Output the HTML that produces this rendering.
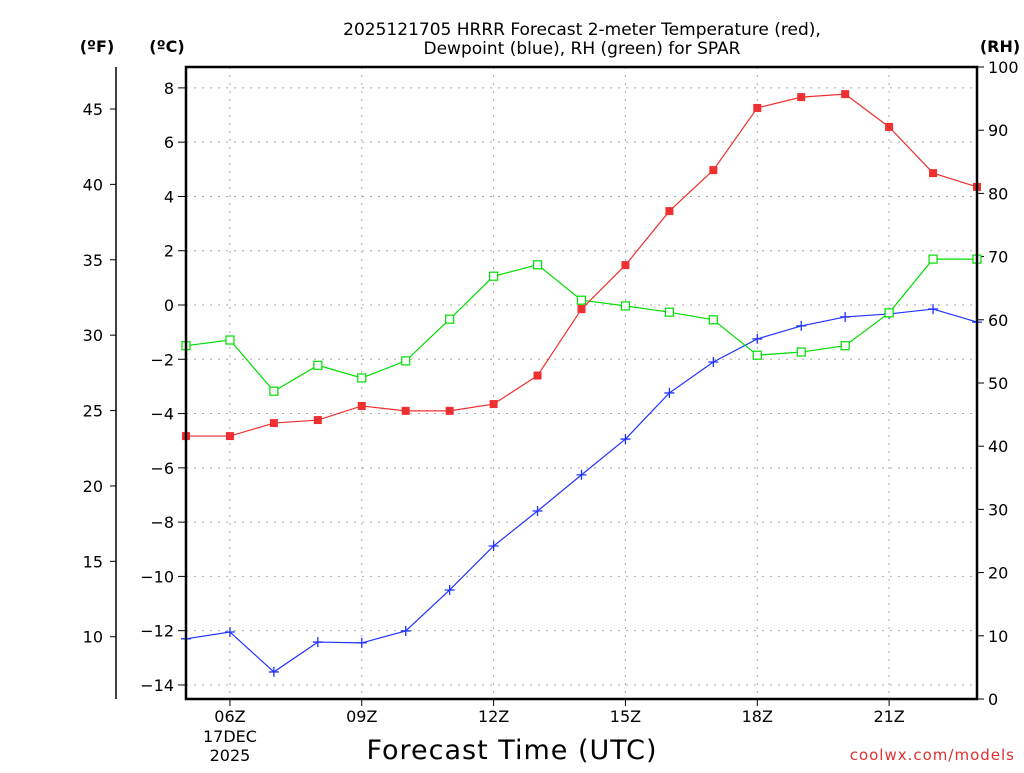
<!DOCTYPE html>
<html><head><meta charset="utf-8"><style>
body{margin:0;background:#fff;width:1024px;height:768px;overflow:hidden}
svg text{font-family:"DejaVu Sans","Liberation Sans",sans-serif;fill:#000}
</style></head><body>
<svg id="chart" width="1024" height="768" xmlns="http://www.w3.org/2000/svg">
<text x="582" y="35" font-size="17" text-anchor="middle">2025121705 HRRR Forecast 2-meter Temperature (red),</text>
<text x="582" y="54" font-size="17" text-anchor="middle">Dewpoint (blue), RH (green) for SPAR</text>
<text x="97" y="52" font-size="16" font-weight="bold" text-anchor="middle">(ºF)</text>
<text x="167" y="52" font-size="16" font-weight="bold" text-anchor="middle">(ºC)</text>
<text x="1000" y="52" font-size="16" font-weight="bold" text-anchor="middle">(RH)</text>
<text x="512" y="759" font-size="27" text-anchor="middle" letter-spacing="1">Forecast Time (UTC)</text>
<text x="1015" y="760" font-size="15" text-anchor="end" style="fill:#e03030" letter-spacing="1">coolwx.com/models</text>
<g id="g"></g>
</svg>
<script>
const hours=[5,6,7,8,9,10,11,12,13,14,15,16,17,18,19,20,21,22,23];
const tempC=[-4.83,-4.83,-4.35,-4.24,-3.72,-3.9,-3.9,-3.65,-2.6,-0.15,1.47,3.46,4.97,7.26,7.66,7.77,6.56,4.86,4.35];
const dewC=[-12.3,-12.05,-13.52,-12.42,-12.45,-12.01,-10.5,-8.88,-7.59,-6.26,-4.94,-3.24,-2.1,-1.25,-0.77,-0.44,-0.33,-0.15,-0.63];
const rh=[55.9,56.8,48.7,52.8,50.8,53.5,60.1,66.9,68.7,63.1,62.2,61.2,60,54.4,54.9,55.9,61.1,69.6,69.6];
const cTicks=[8,6,4,2,0,-2,-4,-6,-8,-10,-12,-14];
const fTicks=[45,40,35,30,25,20,15,10];
const rhTicks=[0,10,20,30,40,50,60,70,80,90,100];
const xTicks=[6,9,12,15,18,21];
const L=186,R=977,T=67,B=699;
const X=h=>L+(h-5)*(R-L)/18;
const YC=c=>305-c*27.14;
const YF=f=>YC((f-32)*5/9);
const YR=r=>B-r*(B-T)/100;
const g=document.getElementById('g');
const NS='http://www.w3.org/2000/svg';
function el(tag,a,txt){const e=document.createElementNS(NS,tag);for(const k in a)e.setAttribute(k,a[k]);if(txt!==undefined)e.textContent=txt;g.appendChild(e);return e;}
cTicks.forEach(c=>{const y=YC(c);
 const l=el('line',{x1:L,x2:R,y1:y,y2:y,stroke:'#aaa','stroke-dasharray':'2,6'});
 
 const t=el('line',{x1:L-8,x2:L,y1:y,y2:y,stroke:'#000'});
 
 const tx=el('text',{x:L-12,y:y+6,'font-size':16,'text-anchor':'end'},(c<0?'\u2212'+(-c):c));
 });
xTicks.forEach(h=>{const x=X(h);
 const l=el('line',{x1:x,x2:x,y1:T,y2:B,stroke:'#aaa','stroke-dasharray':'2,6'});
 
 const t=el('line',{x1:x,x2:x,y1:B,y2:B+7,stroke:'#000'});
 
 const tx=el('text',{x:x,y:B+23,'font-size':16,'text-anchor':'middle'},(h<10?'0'+h:h)+'Z');
 });
const d1=el('text',{x:X(6),y:B+43,'font-size':16,'text-anchor':'middle'},'17DEC');

const d2=el('text',{x:X(6),y:B+62,'font-size':16,'text-anchor':'middle'},'2025');

const fa=el('line',{x1:116,x2:116,y1:T,y2:B,stroke:'#000','stroke-width':1.5});

fTicks.forEach(f=>{const y=YF(f);
 const t=el('line',{x1:110,x2:116,y1:y,y2:y,stroke:'#000'});
 
 const tx=el('text',{x:103,y:y+6,'font-size':16,'text-anchor':'end'},f);
 });
rhTicks.forEach(r=>{const y=YR(r);
 const t=el('line',{x1:R,x2:R+7,y1:y,y2:y,stroke:'#000'});
 
 const tx=el('text',{x:R+11,y:y+6,'font-size':16},r);
 });
function series(vals,Y,color,name,marker){
 const pts=vals.map((v,i)=>X(hours[i])+','+Y(v)).join(' ');
 const p=el('polyline',{points:pts,fill:'none',stroke:color,'stroke-width':1.2});
 
 vals.forEach((v,i)=>{const x=X(hours[i]),y=Y(v);let m;
  if(marker==='fill')m=el('rect',{x:x-4,y:y-4,width:8,height:8,fill:color});
  else if(marker==='open')m=el('rect',{x:x-4,y:y-4,width:8,height:8,fill:'#fff',stroke:color,'stroke-width':1.2});
  else m=el('path',{d:`M${x-5} ${y}H${x+5}M${x} ${y-5}V${y+5}`,stroke:color,'stroke-width':1.3});
  });}
series(dewC,YC,'#2233ff','dewpoint','plus');
series(rh,YR,'#00dd00','rh','open');
series(tempC,YC,'#f03030','temperature','fill');
const fr=el('rect',{x:L,y:T,width:R-L,height:B-T,fill:'none',stroke:'#000','stroke-width':2.5});

</script>
</body></html>
